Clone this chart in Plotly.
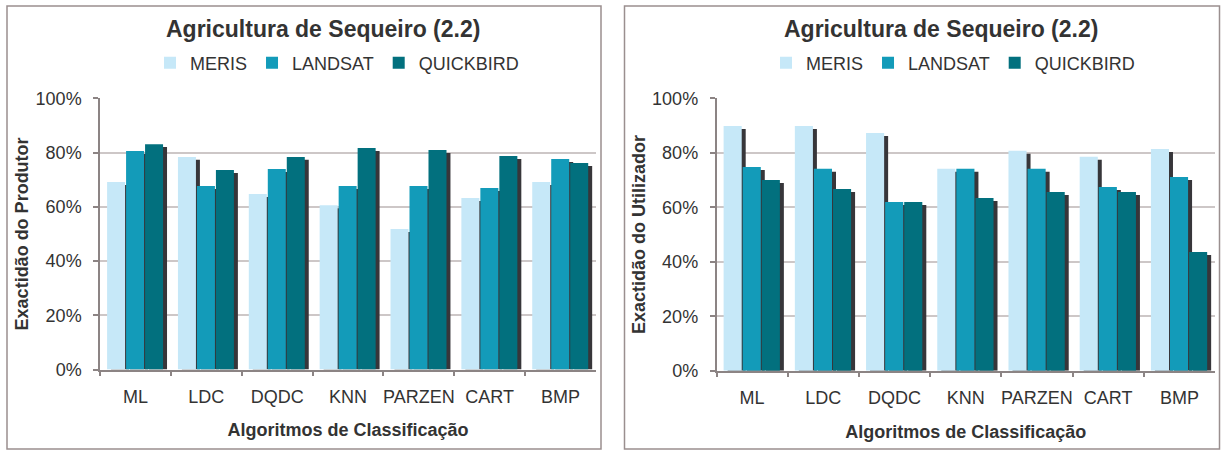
import plotly.graph_objects as go

categories = ["ML", "LDC", "DQDC", "KNN", "PARZEN", "CART", "BMP"]
series_names = ["MERIS", "LANDSAT", "QUICKBIRD"]

produtor_meris = [69.1, 78.4, 64.7, 60.6, 51.8, 63.2, 69.1]
produtor_landsat = [80.6, 67.7, 73.9, 67.7, 67.7, 66.9, 77.6]
produtor_quickbird = [83.1, 73.6, 78.4, 81.7, 80.9, 78.7, 76.1]

utilizador_meris = [89.8, 89.8, 87.3, 74.1, 80.7, 78.5, 81.4]
utilizador_landsat = [74.8, 74.1, 61.9, 74.1, 74.1, 67.4, 71.1]
utilizador_quickbird = [70.0, 66.7, 61.9, 63.4, 65.6, 65.6, 43.6]

chart_title = "Agricultura de Sequeiro (2.2)"
y_titles = ["Exactidão do Produtor", "Exactidão do Utilizador"]
x_title = "Algoritmos de Classificação"
y_ticks = [0, 20, 40, 60, 80, 100]
y_tick_labels = ["0%", "20%", "40%", "60%", "80%", "100%"]

colors = ["#c6e8f8", "#139bb9", "#02707e"]
shadow_color = "#37363a"
text_color = "#333333"
axis_color = "#8c8484"
grid_color = "#cdc7c7"
box_color = "#9a8f8f"
FONT = "Liberation Sans, Arial, sans-serif"

W, H = 1221, 450
BAR_W = 0.254
STEP = 0.268
START = -0.4
SH_DX = 0.056
SH_DY = 1.1

fig = go.Figure()

panels = [
    dict(vals=[produtor_meris, produtor_landsat, produtor_quickbird],
         xa="x", ya="y", legend="legend"),
    dict(vals=[utilizador_meris, utilizador_landsat, utilizador_quickbird],
         xa="x2", ya="y2", legend="legend2"),
]

for p in panels:
    for s, (name, vals) in enumerate(zip(series_names, p["vals"])):
        off = START + s * STEP
        fig.add_trace(go.Bar(
            x=categories, y=[v - SH_DY for v in vals], width=BAR_W, offset=off + SH_DX,
            marker=dict(color=shadow_color, line=dict(width=0)),
            showlegend=False, hoverinfo="skip", xaxis=p["xa"], yaxis=p["ya"]))
        fig.add_trace(go.Bar(
            x=categories, y=vals, width=BAR_W, offset=off, name=name,
            marker=dict(color=colors[s], line=dict(width=0)),
            legend=p["legend"], xaxis=p["xa"], yaxis=p["ya"]))

def px_x(v):
    return v / W

def px_y(v):
    return 1 - v / H

xdoms = [[px_x(100), px_x(596)], [px_x(716.5), px_x(1215)]]
ydoms = [[px_y(369.5), px_y(98.3)], [px_y(370.7), px_y(98.3)]]

axis_common_x = dict(
    type="category", tickson="boundaries", ticks="outside", ticklen=5,
    tickcolor=axis_color, tickwidth=1.5, showline=True, linecolor=axis_color,
    linewidth=1.5, showgrid=False, zeroline=False, automargin=False,
    tickangle=0, ticklabelstandoff=10,
    tickfont=dict(family=FONT, size=18, color=text_color),
    title=dict(text=x_title, font=dict(family=FONT, size=18, color=text_color,
                                       weight="bold"), standoff=18),
    range=[-0.5, 6.5], fixedrange=True,
)
axis_common_y = dict(
    range=[0, 100], tickmode="array", tickvals=y_ticks, ticktext=y_tick_labels,
    ticks="outside", ticklen=5,
    tickcolor=axis_color, tickwidth=1.5, showline=True, linecolor=axis_color,
    linewidth=1.5, showgrid=True, gridcolor=grid_color, gridwidth=1.5,
    zeroline=False, automargin=False, ticklabelstandoff=8,
    tickfont=dict(family=FONT, size=18, color=text_color),
)

fig.update_layout(
    xaxis=dict(axis_common_x, domain=xdoms[0], anchor="y"),
    yaxis=dict(axis_common_y, domain=ydoms[0], anchor="x",
               title=dict(text=y_titles[0], standoff=2,
                          font=dict(family=FONT, size=18, color=text_color, weight="bold"))),
    xaxis2=dict(axis_common_x, domain=xdoms[1], anchor="y2"),
    yaxis2=dict(axis_common_y, domain=ydoms[1], anchor="x2",
                title=dict(text=y_titles[1], standoff=2,
                           font=dict(family=FONT, size=18, color=text_color, weight="bold"))),
    barmode="overlay",
    width=W, height=H,
    margin=dict(l=0, r=0, t=0, b=0),
    paper_bgcolor="white", plot_bgcolor="white",
    font=dict(family=FONT, color=text_color),
    legend=dict(orientation="h", x=px_x(337), xanchor="center", y=px_y(63),
                yanchor="middle", font=dict(family=FONT, size=18, color=text_color),
                bgcolor="rgba(0,0,0,0)", itemclick=False, itemdoubleclick=False,
                itemwidth=30, tracegroupgap=0),
    legend2=dict(orientation="h", x=px_x(953), xanchor="center", y=px_y(63),
                 yanchor="middle", font=dict(family=FONT, size=18, color=text_color),
                 bgcolor="rgba(0,0,0,0)", itemclick=False, itemdoubleclick=False,
                 itemwidth=30, tracegroupgap=0),
    annotations=[
        dict(text=chart_title, x=px_x(323), y=px_y(29), xref="paper", yref="paper",
             xanchor="center", yanchor="middle", showarrow=False,
             font=dict(family=FONT, size=23, color=text_color, weight="bold")),
        dict(text=chart_title, x=px_x(941), y=px_y(29), xref="paper", yref="paper",
             xanchor="center", yanchor="middle", showarrow=False,
             font=dict(family=FONT, size=23, color=text_color, weight="bold")),
    ],
    shapes=[
        dict(type="rect", xref="paper", yref="paper", x0=px_x(7), x1=px_x(601),
             y0=px_y(449), y1=px_y(6), line=dict(color=box_color, width=1.5),
             layer="below"),
        dict(type="rect", xref="paper", yref="paper", x0=px_x(624.5), x1=px_x(1219.5),
             y0=px_y(449), y1=px_y(6), line=dict(color=box_color, width=1.5),
             layer="below"),
    ],
)

fig.write_html("out.html")
